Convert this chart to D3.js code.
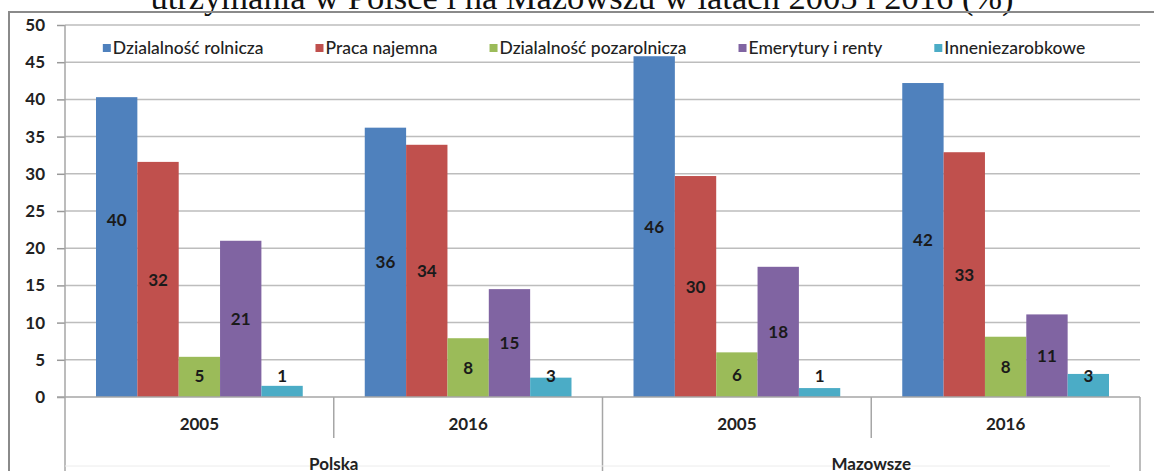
<!DOCTYPE html>
<html>
<head>
<meta charset="utf-8">
<script src="https://cdn.jsdelivr.net/npm/d3@7"></script>
<style>
  body { margin: 0; background: #fff; }
  svg { display: block; }
</style>
</head>
<body>
<div id="chart"></div>
<script>
// data
var regions = ["Polska", "Mazowsze"];
var years = ["2005", "2016", "2005", "2016"];
var seriesNames = ["Dzialalność rolnicza", "Praca najemna", "Dzialalność pozarolnicza", "Emerytury i renty", "Inneniezarobkowe"];
var seriesColors = ["#4f81bd", "#c0504d", "#9bbb59", "#8064a2", "#4bacc6"];

var rolnicza = [40.3, 36.2, 45.8, 42.2];
var najemna = [31.6, 33.9, 29.7, 32.9];
var pozarolnicza = [5.4, 7.9, 6.0, 8.1];
var emerytury = [21.0, 14.5, 17.5, 11.1];
var inne = [1.5, 2.6, 1.2, 3.1];

var rolniczaLabels = [40, 36, 46, 42];
var najemnaLabels = [32, 34, 30, 33];
var pozarolniczaLabels = [5, 8, 6, 8];
var emeryturyLabels = [21, 15, 18, 11];
var inneLabels = [1, 3, 1, 3];

var yTicks = [0, 5, 10, 15, 20, 25, 30, 35, 40, 45, 50];

var seriesValues = [rolnicza, najemna, pozarolnicza, emerytury, inne];
var seriesLabels = [rolniczaLabels, najemnaLabels, pozarolniczaLabels, emeryturyLabels, inneLabels];

function draw() {
    var width = 1154,
        height = 471;

    var plotLeft = 65, plotRight = 1140, plotTop = 25, plotBottom = 397;

    var svg = d3.select("#chart").append("svg")
        .attr("width", width)
        .attr("height", height);

    // title (only its lower part is visible in the crop)
    svg.append("text")
        .attr("x", 582)
        .attr("y", 9)
        .attr("text-anchor", "middle")
        .style("font-family", "'Liberation Serif', 'Times New Roman', serif")
        .style("font-size", "34.5px")
        .style("fill", "#111")
        .text("utrzymania w Polsce i na Mazowszu w latach 2005 i 2016 (%)");

    // chart frame
    svg.append("path")
        .attr("d", "M9," + height + "V12H" + width)
        .attr("fill", "none")
        .attr("stroke", "#8a8a8a")
        .attr("stroke-width", 2);

    var y = d3.scaleLinear()
        .domain([0, 50])
        .range([plotBottom, plotTop]);

    var x0 = d3.scaleBand()
        .domain(d3.range(years.length))
        .range([plotLeft, plotRight]);

    var x1 = d3.scaleBand()
        .domain(d3.range(seriesNames.length))
        .range([0, x0.bandwidth()])
        .paddingOuter(0.75);

    var g = svg.append("g");

    // gridlines
    g.selectAll("line.grid")
        .data(yTicks.filter(function (d) { return d > 0; }))
        .enter().append("line")
        .attr("class", "grid")
        .attr("x1", plotLeft)
        .attr("x2", plotRight)
        .attr("y1", function (d) { return y(d); })
        .attr("y2", function (d) { return y(d); })
        .attr("stroke", "#bdbdbd")
        .attr("stroke-width", 1.5);

    // y axis
    var yAxis = d3.axisLeft(y)
        .tickValues(yTicks)
        .tickSize(8)
        .tickPadding(12);

    var yg = svg.append("g")
        .attr("transform", "translate(" + plotLeft + ",0)")
        .call(yAxis);
    yg.select(".domain").remove();
    yg.selectAll(".tick line").attr("stroke", "#999").attr("stroke-width", 1.5);
    yg.selectAll(".tick text")
        .style("font-family", "Lato, sans-serif")
        .style("font-size", "17px")
        .style("font-weight", "bold")
        .style("fill", "#222");

    // bars
    var groups = g.selectAll("g.cat")
        .data(years)
        .enter().append("g")
        .attr("class", "cat")
        .attr("transform", function (d, i) { return "translate(" + x0(i) + ",0)"; });

    groups.each(function (yr, ci) {
        var rows = seriesValues.map(function (vals, si) {
            return { s: si, v: vals[ci], label: seriesLabels[si][ci] };
        });
        var cg = d3.select(this);
        cg.selectAll("rect")
            .data(rows)
            .enter().append("rect")
            .attr("x", function (d) { return x1(d.s); })
            .attr("width", x1.bandwidth())
            .attr("y", function (d) { return y(d.v); })
            .attr("height", function (d) { return y(0) - y(d.v); })
            .attr("fill", function (d) { return seriesColors[d.s]; });

        cg.selectAll("text")
            .data(rows)
            .enter().append("text")
            .attr("x", function (d) { return x1(d.s) + x1.bandwidth() / 2; })
            .attr("y", function (d) {
                var mid = (y(d.v) + y(0)) / 2;
                if (ci === 0 && d.s === 0) mid -= 27; // label moved up in the original
                return Math.min(mid, y(2.9));
            })
            .attr("dy", "0.36em")
            .attr("text-anchor", "middle")
            .style("font-family", "Lato, sans-serif")
            .style("font-size", "17px")
            .style("font-weight", "bold")
            .style("fill", "#1a1a1a")
            .text(function (d) { return d.label; });
    });

    // category axis (two levels)
    var axisColor = "#a6a6a6";
    svg.append("line")
        .attr("x1", plotLeft - 8).attr("x2", plotRight)
        .attr("y1", plotBottom).attr("y2", plotBottom)
        .attr("stroke", axisColor).attr("stroke-width", 1.5);
    svg.append("line")
        .attr("x1", plotLeft).attr("x2", plotLeft)
        .attr("y1", plotTop).attr("y2", height)
        .attr("stroke", axisColor).attr("stroke-width", 1.5);
    svg.append("line")
        .attr("x1", plotRight).attr("x2", plotRight)
        .attr("y1", plotBottom).attr("y2", height)
        .attr("stroke", axisColor).attr("stroke-width", 1.5);

    // year dividers (short) and region divider (long)
    years.forEach(function (yr, i) {
        if (i === 0) return;
        var xd = x0(i);
        var full = (i % 2 === 0);
        svg.append("line")
            .attr("x1", xd).attr("x2", xd)
            .attr("y1", plotBottom).attr("y2", full ? height : 438)
            .attr("stroke", axisColor).attr("stroke-width", 1.5);
    });

    svg.append("line")
        .attr("x1", plotLeft).attr("x2", plotRight - 30)
        .attr("y1", 466).attr("y2", 466)
        .attr("stroke", "#ececec").attr("stroke-width", 1);

    svg.selectAll("text.year")
        .data(years)
        .enter().append("text")
        .attr("class", "year")
        .attr("x", function (d, i) { return x0(i) + x0.bandwidth() / 2; })
        .attr("y", 430)
        .attr("text-anchor", "middle")
        .style("font-family", "Lato, sans-serif")
        .style("font-size", "17px")
        .style("font-weight", "bold")
        .style("fill", "#222")
        .text(function (d) { return d; });

    svg.selectAll("text.region")
        .data(regions)
        .enter().append("text")
        .attr("class", "region")
        .attr("x", function (d, i) { return x0(i * 2) + x0.bandwidth(); })
        .attr("y", 470)
        .attr("text-anchor", "middle")
        .style("font-family", "Lato, sans-serif")
        .style("font-size", "17px")
        .style("font-weight", "bold")
        .style("fill", "#222")
        .text(function (d) { return d; });

    // legend
    var legend = svg.append("g");
    var items = legend.selectAll("g")
        .data(seriesNames)
        .enter().append("g");
    items.append("rect")
        .attr("width", 8)
        .attr("height", 8)
        .attr("y", -4)
        .attr("fill", function (d, i) { return seriesColors[i]; });
    items.append("text")
        .attr("x", 10)
        .attr("dy", "0.36em")
        .style("font-family", "Lato, sans-serif")
        .style("font-size", "17.5px")
        .style("font-weight", "500")
        .style("fill", "#222")
        .text(function (d) { return d; });

    var pos = 0, gap = 52;
    items.each(function () {
        var w = 10 + this.querySelector("text").getComputedTextLength();
        d3.select(this).attr("transform", "translate(" + pos + ",48)");
        pos += w + gap;
    });
    var total = pos - gap;
    legend.attr("transform", "translate(" + (594 - total / 2) + ",0)");
}

draw();
</script>
</body>
</html>
